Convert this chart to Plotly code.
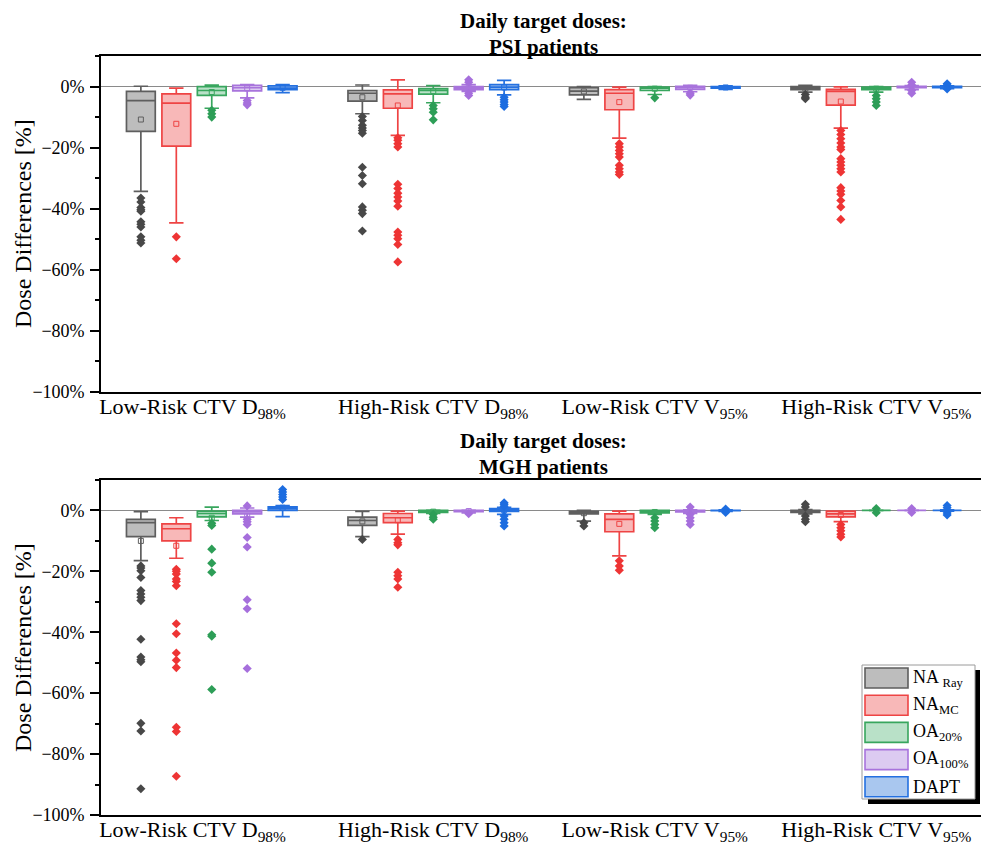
import plotly.graph_objects as go

# ---------------- data ----------------
CATEGORIES = ["Low-Risk CTV D<sub>98%</sub>" + "\u00a0" * 7, "High-Risk CTV D<sub>98%</sub>",
              "Low-Risk CTV V<sub>95%</sub>", "High-Risk CTV V<sub>95%</sub>"]
SERIES = ["NA <sub>Ray</sub>", "NA<sub>MC</sub>", "OA<sub>20%</sub>", "OA<sub>100%</sub>", "DAPT"]
Y_TICKS = [-100, -80, -60, -40, -20, 0]
Y_TICK_LABELS = ["\u2212100%", "\u221280%", "\u221260%", "\u221240%", "\u221220%", "0%"]

# PSI patients (rows = series, cols = categories)
PSI_UPPER = [[0.1, 0.5, 0.0, 0.4], [-0.5, 2.2, -0.2, -0.1], [0.5, 0.3, 0.0, 0.0],
             [0.6, 0.6, 0.4, 0.3], [0.6, 2.0, 0.2, 0.2]]
PSI_Q3 = [[-1.6, -1.3, -0.4, 0.0], [-2.4, -1.1, -1.0, -0.9], [0.0, -0.65, -0.2, -0.2],
          [0.4, 0.0, 0.1, 0.1], [0.2, 0.6, 0.0, 0.1]]
PSI_MED = [[-4.6, -2.2, -1.5, -0.5], [-5.4, -2.4, -2.2, -1.6], [-1.3, -1.3, -0.5, -0.5],
           [-0.4, -0.5, -0.3, -0.1], [-0.5, -0.2, -0.3, -0.2]]
PSI_Q1 = [[-14.7, -4.8, -2.7, -1.0], [-19.5, -7.1, -7.6, -6.1], [-2.9, -2.5, -1.3, -1.0],
          [-1.4, -1.0, -0.9, -0.4], [-1.0, -1.0, -0.5, -0.4]]
PSI_LOWER = [[-34.3, -8.9, -4.2, -1.8], [-44.6, -16.0, -16.9, -13.6], [-7.1, -5.3, -2.6, -1.8],
             [-3.7, -1.6, -1.7, -1.0], [-2.0, -2.7, -0.9, -0.7]]
PSI_MEAN = [[-10.8, -3.5, -1.6, -0.7], [-12.2, -6.2, -5.1, -4.9], [-1.8, -1.5, -0.7, -0.7],
            [-0.6, -0.4, -0.4, -0.1], [-0.4, -0.3, -0.3, -0.2]]

PSI_OUT_NA_RAY = [[-36.5, -37.8, -39.6, -40.3, -40.8, -44.3, -45.1, -46.0, -49.2, -50.3, -51.2],
                  [-9.8, -11.1, -12.7, -13.6, -14.4, -15.3, -26.4, -29.1, -31.8, -39.4, -40.5, -41.6, -47.3],
                  [],
                  [-2.6, -3.5, -4.0]]
PSI_OUT_NA_MC = [[-49.2, -56.4],
                 [-16.8, -17.6, -18.7, -19.8, -32.0, -33.4, -34.9, -36.2, -37.5, -39.2, -47.6, -48.7, -49.8, -51.7, -57.4],
                 [-18.7, -19.8, -20.9, -22.0, -23.1, -25.8, -26.9, -28.0, -28.8],
                 [-14.4, -15.7, -17.1, -18.5, -19.8, -20.6, -23.6, -24.7, -25.8, -26.9, -28.0, -33.1, -34.2, -35.3, -37.3, -39.4, -43.5]]
PSI_OUT_OA20 = [[-7.8, -8.9, -10.0], [-6.2, -7.3, -8.4, -10.9], [-3.7], [-2.9, -4.0, -5.1, -6.2]]
PSI_OUT_OA100 = [[-4.6, -5.4, -6.0], [2.2, 1.4, -2.2, -2.9], [-2.2, -2.8], [1.4, 0.5, -1.3, -2.2]]
PSI_OUT_DAPT = [[], [-3.5, -4.3, -5.1, -5.9, -6.5], [], [0.9, 0.4, -0.8]]

# MGH patients
MGH_UPPER = [[-0.4, -0.3, 0.0, 0.3], [-2.4, -0.2, -0.2, -0.2], [1.1, 0.1, 0.0, 0.1],
             [0.8, 0.1, 0.2, 0.1], [1.6, 1.0, 0.2, 0.2]]
MGH_Q3 = [[-2.9, -2.2, -0.3, 0.0], [-4.4, -1.0, -1.1, -0.2], [-0.2, 0.0, 0.0, 0.0],
          [0.0, 0.0, 0.0, 0.0], [1.2, 0.65, 0.0, 0.0]]
MGH_MED = [[-4.0, -3.3, -0.65, -0.3], [-6.0, -2.4, -2.9, -1.1], [-1.0, -0.3, -0.3, 0.0],
           [-0.5, -0.2, -0.2, 0.0], [0.65, 0.1, 0.0, 0.0]]
MGH_Q1 = [[-8.6, -4.9, -1.1, -0.65], [-10.0, -4.0, -7.0, -2.1], [-2.1, -0.6, -0.8, 0.0],
          [-1.1, -0.4, -0.5, 0.0], [0.0, -0.3, -0.1, 0.0]]
MGH_LOWER = [[-16.5, -8.6, -3.5, -1.1], [-15.7, -7.8, -14.9, -3.7], [-3.3, -1.0, -1.3, -0.1],
             [-2.2, -0.8, -1.0, -0.1], [-2.0, -1.3, -0.3, -0.2]]
MGH_MEAN = [[-10.0, -3.6, -0.9, -0.4], [-11.6, -3.2, -4.4, -1.5], [-2.4, -0.4, -0.5, 0.0],
            [-1.8, -0.2, -0.3, 0.0], [0.9, 0.1, 0.0, 0.0]]

MGH_OUT_NA_RAY = [[-18.2, -18.9, -19.8, -22.0, -26.3, -27.4, -28.5, -29.6, -42.3, -48.1, -49.0, -49.7, -69.9, -72.4, -91.4],
                  [-9.5], [-4.0, -5.1], [2.0, 1.1, -1.8, -2.9, -3.7]]
MGH_OUT_NA_MC = [[-19.3, -20.0, -20.9, -22.5, -23.3, -24.7, -37.2, -40.5, -46.8, -49.2, -51.6, -71.2, -72.6, -87.3],
                 [-9.5, -10.6, -11.3, -20.3, -21.4, -22.5, -25.2],
                 [-16.5, -18.2, -19.6],
                 [-4.6, -5.7, -6.7, -7.8, -8.7]]
MGH_OUT_OA20 = [[-4.2, -4.9, -12.7, -17.3, -20.3, -40.8, -41.3, -58.8],
                [-1.3, -2.2, -2.9], [-2.4, -3.5, -4.6, -5.7], [0.65, -0.76]]
MGH_OUT_OA100 = [[1.5, -2.9, -3.7, -4.6, -8.9, -12.0, -29.3, -32.3, -51.9],
                 [-1.1], [1.1, -1.3, -2.4, -3.5, -4.6], [0.65, -0.65]]
MGH_OUT_DAPT = [[6.9, 6.1, 5.2, 4.4, 3.6],
                [2.5, 2.0, 1.4, -1.8, -2.9, -4.0, -5.1],
                [0.5, -0.65], [1.6, 0.9, -0.8, -1.5]]

# ---------------- style ----------------
LINE_COLORS = ["#5e5e5e", "#ee4444", "#38a65e", "#a874dc", "#2470e0"]
FILL_COLORS = ["#bdbdbd", "#f8b8b8", "#b9e1c8", "#dccbf1", "#a9c7ef"]
POINT_COLORS = ["#484848", "#ee3434", "#2d9e57", "#a66fdc", "#1d6de0"]
FONT = "Liberation Serif"

# the page body has an 8 px default margin; the figure starts at (8, 8)
OFF = 8
PAGE_W, PAGE_H = 989, 846
W, H = PAGE_W - OFF, PAGE_H - OFF
PLOT_L, PLOT_R, PLOT_T, PLOT_B = 101, 987, 56, 815   # page pixel coords
L, R, T, B = PLOT_L - OFF, PAGE_W - PLOT_R, PLOT_T - OFF, PAGE_H - PLOT_B
PW, PH = PLOT_R - PLOT_L, PLOT_B - PLOT_T
SPACING = 0.16
BOX_W = 0.13


def px(x):
    return (x - PLOT_L) / PW


def py(y):
    return (PLOT_B - y) / PH


fig = go.Figure()

panels = [
    ("x", "y", PSI_Q1, PSI_MED, PSI_Q3, PSI_LOWER, PSI_UPPER, PSI_MEAN,
     [PSI_OUT_NA_RAY, PSI_OUT_NA_MC, PSI_OUT_OA20, PSI_OUT_OA100, PSI_OUT_DAPT]),
    ("x2", "y2", MGH_Q1, MGH_MED, MGH_Q3, MGH_LOWER, MGH_UPPER, MGH_MEAN,
     [MGH_OUT_NA_RAY, MGH_OUT_NA_MC, MGH_OUT_OA20, MGH_OUT_OA100, MGH_OUT_DAPT]),
]

for xa, ya, q1, med, q3, lo, up, mean, outs in panels:
    for s in range(len(SERIES)):
        xs = [c + (s - 2) * SPACING for c in range(len(CATEGORIES))]
        fig.add_trace(go.Box(
            x=xs, q1=q1[s], median=med[s], q3=q3[s],
            lowerfence=lo[s], upperfence=up[s],
            width=BOX_W, whiskerwidth=0.5, boxpoints=False,
            fillcolor=FILL_COLORS[s], line=dict(color=LINE_COLORS[s], width=1.7),
            xaxis=xa, yaxis=ya, showlegend=False, hoverinfo="skip"))
        fig.add_trace(go.Scatter(
            x=xs, y=mean[s], mode="markers",
            marker=dict(symbol="square-open", size=5, color=LINE_COLORS[s], line=dict(width=1)),
            xaxis=xa, yaxis=ya, showlegend=False, hoverinfo="skip"))
        ox, oy = [], []
        for c, vals in enumerate(outs[s]):
            for v in vals:
                ox.append(xs[c])
                oy.append(v)
        fig.add_trace(go.Scatter(
            x=ox, y=oy, mode="markers",
            marker=dict(symbol="diamond", size=7, color=POINT_COLORS[s]),
            xaxis=xa, yaxis=ya, showlegend=False, hoverinfo="skip"))

axis_common = dict(showline=True, mirror=True, linecolor="black", linewidth=1.6,
                   showgrid=False, automargin=False)
xaxis_common = dict(axis_common, range=[-0.5, 3.5], tickvals=list(range(len(CATEGORIES))),
                    ticktext=CATEGORIES, ticks="", zeroline=False, ticklabelstandoff=-6,
                    tickfont=dict(family=FONT, size=22, color="black"))
yaxis_common = dict(axis_common, range=[-100, 10], tickvals=Y_TICKS, ticktext=Y_TICK_LABELS,
                    ticks="outside", ticklen=9, tickwidth=1.5, tickcolor="black",
                    ticklabelstandoff=2,
                    minor=dict(dtick=10, ticks="outside", ticklen=4, tickwidth=1.5,
                               tickcolor="black", showgrid=False),
                    zeroline=True, zerolinecolor="#8a8a8a", zerolinewidth=1.2,
                    tickfont=dict(family=FONT, size=18, color="black"))

top_dom = [py(392), 1.0]
bot_dom = [0.0, py(480)]

fig.update_layout(
    width=W, height=H,
    margin=dict(l=L, r=R, t=T, b=B, pad=0, autoexpand=False),
    paper_bgcolor="white", plot_bgcolor="white",
    font=dict(family=FONT, color="black"),
    xaxis=dict(xaxis_common, anchor="y"),
    yaxis=dict(yaxis_common, domain=top_dom, anchor="x"),
    xaxis2=dict(xaxis_common, anchor="y2"),
    yaxis2=dict(yaxis_common, domain=bot_dom, anchor="x2"),
    showlegend=False,
)

ann = []
for text, ypx in [("Daily target doses:", 21), ("PSI patients", 47),
                  ("Daily target doses:", 441), ("MGH patients", 467)]:
    ann.append(dict(text="<b>%s</b>" % text, x=px(543), y=py(ypx), xref="paper", yref="paper",
                    xanchor="center", yanchor="middle", showarrow=False, borderpad=0,
                    font=dict(family=FONT, size=21, color="black")))
for ypx in [224, 648]:
    ann.append(dict(text="Dose Differences [%]", x=px(23), y=py(ypx), xref="paper", yref="paper",
                    xanchor="center", yanchor="middle", textangle=-90, showarrow=False,
                    font=dict(family=FONT, size=24, color="black")))

# manual legend (box with drop shadow)
shapes = []
shapes.append(dict(type="rect", xref="paper", yref="paper",
                   x0=px(868), x1=px(980), y0=py(804), y1=py(670),
                   fillcolor="black", line=dict(width=0)))
shapes.append(dict(type="rect", xref="paper", yref="paper",
                   x0=px(862), x1=px(975), y0=py(799), y1=py(665),
                   fillcolor="white", line=dict(color="#9a9a9a", width=1)))
for s, name in enumerate(SERIES):
    top = 668 + s * 27.2
    shapes.append(dict(type="rect", xref="paper", yref="paper",
                       x0=px(865), x1=px(908), y0=py(top + 20), y1=py(top),
                       fillcolor=FILL_COLORS[s], line=dict(color=LINE_COLORS[s], width=1.6)))
    ann.append(dict(text=name, x=px(911), y=py(top + 10), xref="paper", yref="paper",
                    xanchor="left", yanchor="middle", showarrow=False,
                    font=dict(family=FONT, size=18, color="black")))

fig.update_layout(annotations=ann, shapes=shapes)
fig.write_html("out.html")
